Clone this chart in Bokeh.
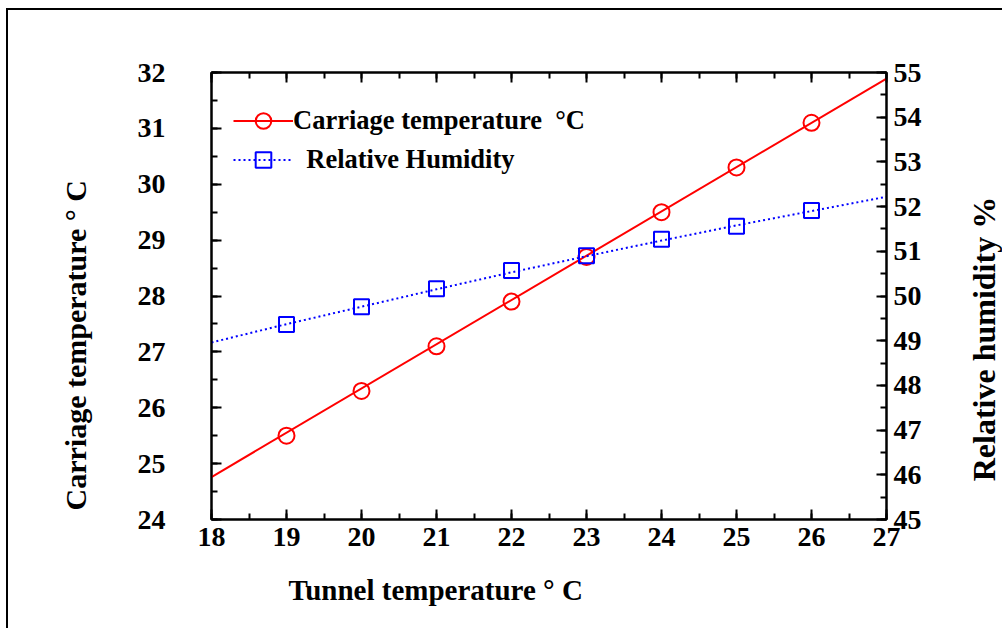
import math
from bokeh.plotting import figure
from bokeh.layouts import row
from bokeh.models import (Range1d, LinearAxis, SingleIntervalTicker, Legend,
                          LegendItem, Title, Label)
from bokeh.embed import file_html
from bokeh.resources import INLINE

# ---------------- data ----------------
tunnel_temp = [19, 20, 21, 22, 23, 24, 25, 26]
carriage_temp = [25.5, 26.3, 27.1, 27.9, 28.7, 29.5, 30.3, 31.1]
rel_humidity = [49.36, 49.76, 50.16, 50.57, 50.9, 51.27, 51.56, 51.91]

carriage_fit_x = [18, 27]
carriage_fit_y = [24.76, 31.89]
humidity_fit_x = [18, 19, 20, 21, 22, 23, 24, 25, 26, 27]
humidity_fit_y = [48.96, 49.37, 49.76, 50.15, 50.53, 50.89, 51.24, 51.58, 51.9, 52.22]

x_label = "Tunnel temperature  \u00b0 C"
y_label = "Carriage temperature  \u00b0 C"
y2_label = "Relative humidity  %"
legend_labels = ["Carriage temperature  \u00b0C", "\u00a0\u00a0Relative Humidity"]

FONT = "Liberation Serif"
H = 618

p = figure(width=930, height=H,
           x_range=Range1d(18, 27), y_range=Range1d(24, 32),
           output_backend="svg", toolbar_location=None,
           min_border_left=203, min_border_right=52,
           min_border_top=62, min_border_bottom=106)
p.extra_y_ranges = {"rh": Range1d(45, 55)}
p.xgrid.visible = False
p.ygrid.visible = False
p.outline_line_color = "black"
p.outline_line_width = 2
p.background_fill_color = "white"
p.border_fill_color = "white"

bottom_axis = p.below[0]
left_axis = p.left[0]
right_axis = LinearAxis(y_range_name="rh")
p.add_layout(right_axis, "right")
top_axis = LinearAxis()
p.add_layout(top_axis, "above")


def style_axis(ax, standoff):
    ax.ticker = SingleIntervalTicker(interval=1, num_minor_ticks=2)
    ax.axis_line_width = 2
    ax.axis_line_color = "black"
    ax.major_tick_in = 10
    ax.major_tick_out = 0
    ax.minor_tick_in = 6
    ax.minor_tick_out = 0
    ax.major_tick_line_width = 2
    ax.minor_tick_line_width = 2
    ax.major_tick_line_color = "black"
    ax.minor_tick_line_color = "black"
    ax.major_label_text_font = FONT
    ax.major_label_text_font_style = "bold"
    ax.major_label_text_font_size = "28px"
    ax.major_label_text_color = "black"
    ax.major_label_standoff = standoff


style_axis(bottom_axis, 8)
style_axis(left_axis, 46)
style_axis(right_axis, 7)
style_axis(top_axis, 0)
top_axis.major_label_text_font_size = "0px"
top_axis.major_label_text_alpha = 0

# ---------------- series ----------------
r_fit = p.line(carriage_fit_x, carriage_fit_y, line_color="#ff0000", line_width=2)
r_pts = p.scatter(tunnel_temp, carriage_temp, marker="circle", size=16,
                  fill_color=None, line_color="#ff0000", line_width=2)
b_fit = p.line(humidity_fit_x, humidity_fit_y, line_color="#0000ff", line_width=2,
               line_dash="2 3", y_range_name="rh")
b_pts = p.scatter(tunnel_temp, rel_humidity, marker="square", size=15,
                  fill_color=None, line_color="#0000ff", line_width=2,
                  y_range_name="rh")

legend = Legend(items=[LegendItem(label=legend_labels[0], renderers=[r_fit, r_pts]),
                       LegendItem(label=legend_labels[1], renderers=[b_fit, b_pts])],
                location=(22, 340), padding=0, margin=0, spacing=0,
                glyph_width=60, glyph_height=39, label_height=39,
                label_standoff=0,
                label_text_font=FONT, label_text_font_style="bold",
                label_text_font_size="26.5px", label_text_color="black",
                border_line_alpha=0, background_fill_alpha=0)
p.add_layout(legend)

# ---------------- axis titles ----------------
p.add_layout(Title(text=x_label, align="left", offset=77, standoff=46,
                   text_font=FONT, text_font_style="bold", text_font_size="29px",
                   text_color="black"), "below")
p.add_layout(Title(text=y_label, align="left", offset=9, standoff=86,
                   text_font=FONT, text_font_style="bold", text_font_size="30px",
                   text_color="black"), "left")

# right-hand axis title, drawn in a narrow companion panel
W2 = 64
p2 = figure(width=W2, height=H, x_range=Range1d(0, W2), y_range=Range1d(0, H),
            output_backend="svg", toolbar_location=None,
            x_axis_type=None, y_axis_type=None,
            min_border_left=0, min_border_right=0, min_border_top=0, min_border_bottom=0)
p2.xgrid.visible = False
p2.ygrid.visible = False
p2.outline_line_color = None
p2.background_fill_color = "white"
p2.border_fill_color = "white"
p2.add_layout(Label(x=45, y=255, text=y2_label, angle=math.pi / 2,
                    text_align="center", text_baseline="middle",
                    text_font=FONT, text_font_style="bold", text_font_size="32px",
                    text_color="black"))

layout = row(p, p2, spacing=0)
layout.margin = (8, 0, 0, 6)
layout.styles = {"border-left": "2px solid black", "border-top": "2px solid black"}

open("out.html", "w").write(file_html(layout, INLINE))
